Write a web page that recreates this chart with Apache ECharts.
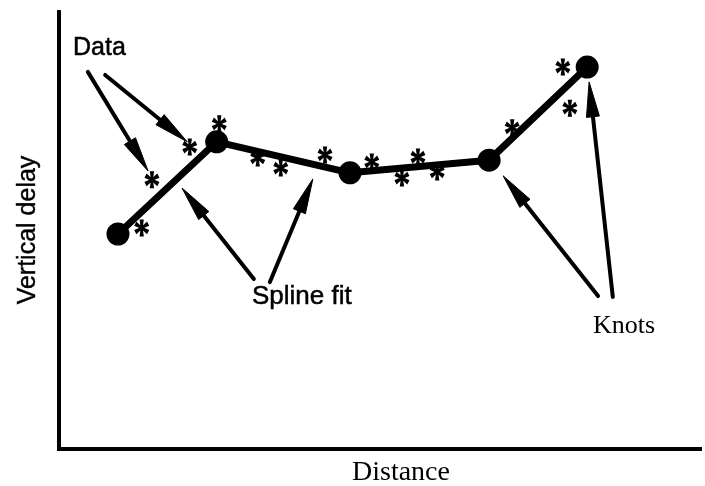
<!DOCTYPE html>
<html>
<head>
<meta charset="utf-8">
<script src="https://cdn.jsdelivr.net/npm/echarts@6/dist/echarts.min.js"></script>
<style>
html,body{margin:0;padding:0;background:#fff;}
#chart{width:705px;height:486px;}
</style>
</head>
<body>
<div id="chart"></div>
<script>
// ---- data (abstract units, axes 0..100) ----
var knotX = [9.2, 24.6, 45.4, 67.1, 82.4];
var knotY = [49.2, 70.3, 63.2, 66.1, 87.4];

var dataX = [12.9, 14.5, 20.4, 25.0, 31.0, 34.6, 41.5, 48.8, 53.5, 56.0, 59.0, 70.7, 78.6, 79.7];
var dataY = [50.6, 61.6, 69.1, 74.4, 66.6, 64.3, 67.3, 65.7, 62.0, 66.8, 63.4, 73.5, 87.4, 78.0];

// arrows: tail x, tail y, tip x, tip y
var arrowTailX = [4.5, 7.2, 30.4, 32.9, 84.1, 86.4];
var arrowTailY = [86.3, 85.6, 38.9, 38.2, 35.0, 34.8];
var arrowTipX  = [13.9, 20.0, 19.2, 39.6, 69.3, 82.7];
var arrowTipY  = [63.6, 70.3, 59.7, 61.8, 62.5, 84.0];

var labelData = 'Data';
var labelSpline = 'Spline fit';
var labelKnots = 'Knots';
var xName = 'Distance';
var yName = 'Vertical delay';

// ---- build series data ----
var knotSeries = knotX.map(function (x, i) { return [x, knotY[i]]; });
var starSeries = dataX.map(function (x, i) { return [x, dataY[i]]; });
var arrowSeries = arrowTailX.map(function (x, i) {
  return [x, arrowTailY[i], arrowTipX[i], arrowTipY[i]];
});

// asterisk symbol path (six arms)
function asteriskPath() {
  var angles = [90, 30, -30, -90, -150, 150];
  var w1 = 1.3, w2 = 2.9, L = 10;
  var s = 'path://';
  angles.forEach(function (a) {
    var r = a * Math.PI / 180;
    var dx = Math.cos(r), dy = -Math.sin(r);
    var nx = -dy, ny = dx;
    var p = [
      [nx * w1, ny * w1],
      [dx * L + nx * w2, dy * L + ny * w2],
      [dx * L - nx * w2, dy * L - ny * w2],
      [-nx * w1, -ny * w1]
    ];
    s += 'M' + p.map(function (q) { return (q[0] + 12).toFixed(2) + ',' + (q[1] + 12).toFixed(2); }).join('L') + 'Z';
  });
  return s;
}

var chart = echarts.init(document.getElementById('chart'), null, { renderer: 'canvas' });

var sans = 'Liberation Sans, Arial, sans-serif';
var serif = 'Liberation Serif, Times New Roman, serif';

var option = {
  backgroundColor: '#ffffff',
  animation: false,
  grid: { left: 59, right: 5, top: 12, bottom: 37, containLabel: false },
  xAxis: {
    type: 'value', min: 0, max: 100,
    axisLine: { show: true, lineStyle: { color: '#000', width: 4, cap: 'square' } },
    axisTick: { show: false }, axisLabel: { show: false }, splitLine: { show: false }
  },
  yAxis: {
    type: 'value', min: 0, max: 100,
    axisLine: { show: true, lineStyle: { color: '#000', width: 4, cap: 'square' } },
    axisTick: { show: false }, axisLabel: { show: false }, splitLine: { show: false }
  },
  series: [
    {
      type: 'custom',
      name: 'arrows',
      data: arrowSeries,
      encode: { x: [0, 2], y: [1, 3] },
      silent: true,
      z: 3,
      renderItem: function (params, api) {
        var p1 = api.coord([api.value(0), api.value(1)]);
        var p2 = api.coord([api.value(2), api.value(3)]);
        var dx = p2[0] - p1[0], dy = p2[1] - p1[1];
        var len = Math.sqrt(dx * dx + dy * dy);
        var ux = dx / len, uy = dy / len;
        var nx = -uy, ny = ux;
        var hl = 35, hw = 13;
        var bx = p2[0] - ux * hl, by = p2[1] - uy * hl;
        return {
          type: 'group',
          children: [
            {
              type: 'line',
              shape: { x1: p1[0], y1: p1[1], x2: bx + ux * 4, y2: by + uy * 4 },
              style: { stroke: '#000', lineWidth: 4, lineCap: 'round' }
            },
            {
              type: 'polygon',
              shape: { points: [[p2[0], p2[1]], [bx + nx * hw / 2, by + ny * hw / 2], [bx - nx * hw / 2, by - ny * hw / 2]] },
              style: { fill: '#000', stroke: '#000', lineWidth: 1 }
            }
          ]
        };
      }
    },
    {
      type: 'scatter',
      name: 'Data',
      data: starSeries,
      symbol: asteriskPath(),
      symbolSize: [15, 17],
      itemStyle: { color: '#000', opacity: 1 },
      z: 4
    },
    {
      type: 'line',
      name: 'Spline fit',
      data: knotSeries,
      symbol: 'circle',
      symbolSize: 23,
      showSymbol: true,
      lineStyle: { color: '#000', width: 7, cap: 'round', join: 'round' },
      itemStyle: { color: '#000', opacity: 1 },
      z: 5
    }
  ],
  graphic: [
    { type: 'text', x: 73, y: 48, style: { text: labelData, font: '25px ' + sans, fill: '#000', stroke: '#000', lineWidth: 0.5, textAlign: 'left', textVerticalAlign: 'middle' } },
    { type: 'text', x: 252, y: 297, style: { text: labelSpline, font: '26px ' + sans, fill: '#000', stroke: '#000', lineWidth: 0.5, textAlign: 'left', textVerticalAlign: 'middle' } },
    { type: 'text', x: 593, y: 326, style: { text: labelKnots, font: '26px ' + serif, fill: '#000', textAlign: 'left', textVerticalAlign: 'middle' } },
    { type: 'text', x: 401, y: 473, style: { text: xName, font: '28px ' + serif, fill: '#000', textAlign: 'center', textVerticalAlign: 'middle' } },
    { type: 'text', x: 28, y: 230, rotation: Math.PI / 2, style: { text: yName, font: '25px ' + sans, fill: '#000', stroke: '#000', lineWidth: 0.4, textAlign: 'center', textVerticalAlign: 'middle' } }
  ]
};
chart.setOption(option);
</script>
</body>
</html>
